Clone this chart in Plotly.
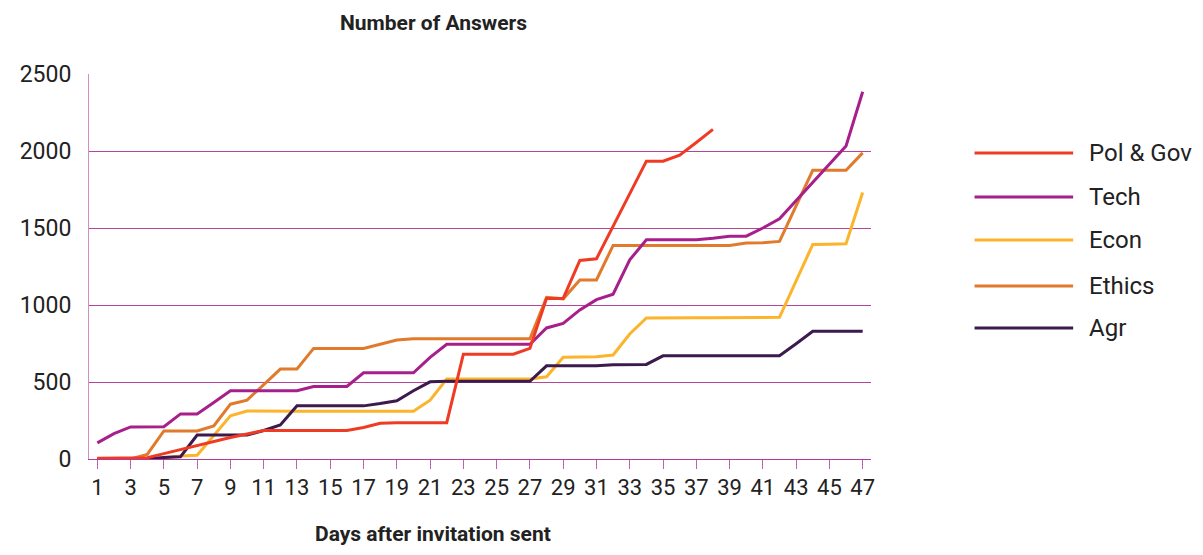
import plotly.graph_objects as go

days = list(range(1, 48))

pol_gov = [5, 5, 5, 8, 35, 62, 90, 115, 140, 162, 185, 185, 185, 185, 185, 185, 205, 232, 236, 236,
           236, 236, 681, 681, 681, 681, 718, 1043, 1043, 1289, 1300, 1515, 1725, 1934, 1934, 1973,
           2055, 2140] + [None] * 9
tech = [105, 165, 208, 210, 210, 293, 293, 367, 443, 443, 443, 443, 443, 471, 471, 471, 560, 560,
        560, 560, 660, 745, 745, 745, 745, 745, 745, 851, 881, 968, 1035, 1070, 1293, 1424, 1424,
        1424, 1424, 1433, 1447, 1447, 1500, 1560, 1680, 1800, 1915, 2033, 2385]
econ = [0, 0, 0, 0, 10, 20, 24, 150, 280, 312, 310, 310, 310, 310, 310, 310, 310, 310, 310, 310,
        382, 519, 519, 519, 519, 519, 519, 534, 660, 662, 664, 675, 812, 916, 918, 918, 918, 918,
        918, 918, 918, 920, 1157, 1393, 1395, 1398, 1730]
ethics = [0, 0, 0, 30, 182, 182, 182, 215, 356, 382, 480, 584, 584, 718, 718, 718, 718, 745, 773,
          781, 781, 781, 781, 781, 781, 781, 781, 1050, 1040, 1163, 1163, 1387, 1387, 1387, 1387,
          1387, 1387, 1387, 1387, 1402, 1405, 1413, 1644, 1875, 1875, 1875, 1988]
agr = [0, 0, 0, 0, 10, 15, 156, 156, 156, 156, 185, 221, 345, 345, 345, 345, 345, 360, 378, 443,
       501, 505, 505, 505, 505, 505, 505, 605, 605, 605, 605, 612, 612, 614, 670, 670, 670, 670,
       670, 670, 670, 670, 748, 829, 829, 829, 829]

series_names = ["Pol & Gov", "Tech", "Econ", "Ethics", "Agr"]
series_values = [pol_gov, tech, econ, ethics, agr]
colors = ["#ef3b24", "#a61f8a", "#fbb42b", "#e17a2b", "#3c1a4d"]

y_ticks = [0, 500, 1000, 1500, 2000, 2500]
x_ticks = list(range(1, 48, 2))

FONT = "Roboto, Liberation Sans Narrow, sans-serif"

fig = go.Figure()
draw_order = [3, 2, 4, 1, 0]
for i in draw_order:
    fig.add_trace(go.Scatter(
        x=days, y=series_values[i], name=series_names[i], mode="lines",
        line=dict(color=colors[i], width=3), showlegend=False,
    ))

# page has an 8px body margin; geometry below is in page pixels
OFF = 8
W, H = 1203 - 2 * OFF, 555 - 2 * OFF
L, R, T, B = 78, 871, 74, 459   # plot area in page pixels


def px_x(p):
    return (p - L) / (R - L)


def px_y(p):
    return (B - p) / (B - T)


shapes = []
annotations = []
legend_y = [153, 197, 240, 286, 328]
for name, col, ly in zip(series_names, colors, legend_y):
    shapes.append(dict(type="line", xref="paper", yref="paper",
                       x0=px_x(976), x1=px_x(1076), y0=px_y(ly), y1=px_y(ly),
                       line=dict(color=col, width=3)))
    annotations.append(dict(text=name, xref="paper", yref="paper", x=px_x(1090), y=px_y(ly),
                            xanchor="left", yanchor="middle", showarrow=False,
                            font=dict(family=FONT, size=24, color="#222222")))

annotations.append(dict(text="<b>Number of Answers</b>", xref="paper", yref="paper",
                        x=px_x(427), y=px_y(23), xanchor="center", yanchor="middle",
                        showarrow=False, font=dict(family=FONT, size=21, color="#222222")))
annotations.append(dict(text="<b>Days after invitation sent</b>", xref="paper", yref="paper",
                        x=px_x(427), y=px_y(534), xanchor="center", yanchor="middle",
                        showarrow=False, font=dict(family=FONT, size=21, color="#222222")))

fig.update_layout(
    width=W, height=H,
    margin=dict(l=L - OFF, r=W - (R - OFF), t=T - OFF, b=H - (B - OFF)),
    plot_bgcolor="white", paper_bgcolor="white",
    shapes=shapes, annotations=annotations,
    xaxis=dict(range=[0.5, 47.5], tickvals=x_ticks, ticktext=[str(v) for v in x_ticks],
               showgrid=False, zeroline=False, showline=True, linecolor="#b5389a", linewidth=1,
               ticks="outside", ticklen=9, tickcolor="#c060b0", tickwidth=1,
               tickfont=dict(family=FONT, size=22, color="#222222")),
    yaxis=dict(range=[0, 2500], tickvals=y_ticks, showgrid=True, gridcolor="#b5449c", gridwidth=1,
               zeroline=False, showline=True, linecolor="#d58cc6", linewidth=1, ticks="",
               ticklabelstandoff=12,
               tickfont=dict(family=FONT, size=23, color="#222222")),
)

fig.write_html("out.html")
